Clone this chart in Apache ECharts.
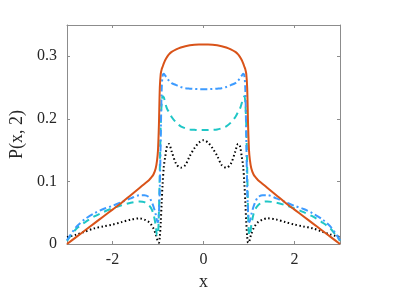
<!DOCTYPE html>
<html>
<head>
<meta charset="utf-8">
<script src="https://cdn.jsdelivr.net/npm/echarts@6/dist/echarts.min.js"></script>
<style>
  html, body { margin: 0; padding: 0; background: #fff; }
  #chart { width: 407px; height: 296px; }
</style>
</head>
<body>
<div id="chart"></div>
<script>
// x grid (shared by all curves)
const xs = [-3, -2.8, -2.6, -2.4, -2.2, -2, -1.8, -1.6, -1.4, -1.3, -1.2, -1.15, -1.1, -1.05, -1.02, -1, -0.98, -0.96, -0.94, -0.92, -0.9, -0.87, -0.84, -0.8, -0.76, -0.7, -0.6, -0.5, -0.4, -0.3, -0.2, -0.1,
  0,
  0.1, 0.2, 0.3, 0.4, 0.5, 0.6, 0.7, 0.76, 0.8, 0.84, 0.87, 0.9, 0.92, 0.94, 0.96, 0.98, 1, 1.02, 1.05, 1.1, 1.15, 1.2, 1.3, 1.4, 1.6, 1.8, 2, 2.2, 2.4, 2.6, 2.8, 3];

const solidP = [0, 0.011, 0.022, 0.033, 0.044, 0.055, 0.066, 0.078, 0.090, 0.096, 0.102, 0.106, 0.111, 0.121, 0.134, 0.150, 0.190, 0.250, 0.272, 0.279, 0.283, 0.289, 0.294, 0.299, 0.303, 0.307, 0.311, 0.314, 0.316, 0.3175, 0.3185, 0.319,
  0.319,
  0.319, 0.3185, 0.3175, 0.316, 0.314, 0.311, 0.307, 0.303, 0.299, 0.294, 0.289, 0.283, 0.279, 0.272, 0.250, 0.190, 0.150, 0.134, 0.121, 0.111, 0.106, 0.102, 0.096, 0.090, 0.078, 0.066, 0.055, 0.044, 0.033, 0.022, 0.011, 0];

const dashDotP = [0.006, 0.027, 0.040, 0.049, 0.056, 0.061, 0.067, 0.073, 0.078, 0.078, 0.075, 0.069, 0.060, 0.047, 0.037, 0.035, 0.050, 0.090, 0.170, 0.245, 0.268, 0.272, 0.269, 0.265, 0.261, 0.257, 0.254, 0.251, 0.249, 0.2483, 0.2478, 0.2475,
  0.2475,
  0.2475, 0.2478, 0.2483, 0.249, 0.251, 0.254, 0.257, 0.261, 0.265, 0.269, 0.272, 0.268, 0.245, 0.170, 0.090, 0.050, 0.035, 0.037, 0.047, 0.060, 0.069, 0.075, 0.078, 0.078, 0.073, 0.067, 0.061, 0.056, 0.049, 0.040, 0.027, 0.006];

const dashedP = [0.005, 0.024, 0.035, 0.044, 0.051, 0.057, 0.062, 0.066, 0.068, 0.067, 0.062, 0.057, 0.048, 0.030, 0.014, 0.015, 0.050, 0.120, 0.190, 0.225, 0.236, 0.234, 0.225, 0.216, 0.211, 0.203, 0.194, 0.188, 0.185, 0.183, 0.1825, 0.182,
  0.182,
  0.182, 0.1825, 0.183, 0.185, 0.188, 0.194, 0.203, 0.211, 0.216, 0.225, 0.234, 0.236, 0.225, 0.190, 0.120, 0.050, 0.015, 0.014, 0.030, 0.048, 0.057, 0.062, 0.067, 0.068, 0.066, 0.062, 0.057, 0.051, 0.044, 0.035, 0.024, 0.005];

const dottedP = [0.011, 0.015, 0.020, 0.025, 0.028, 0.031, 0.035, 0.039, 0.041, 0.039, 0.035, 0.031, 0.025, 0.016, 0.008, 0.003, 0.002, 0.012, 0.035, 0.065, 0.095, 0.125, 0.140, 0.157, 0.160, 0.148, 0.128, 0.122, 0.126, 0.141, 0.153, 0.162,
  0.166,
  0.162, 0.153, 0.141, 0.126, 0.122, 0.128, 0.148, 0.160, 0.157, 0.140, 0.125, 0.095, 0.065, 0.035, 0.012, 0.002, 0.003, 0.008, 0.016, 0.025, 0.031, 0.035, 0.039, 0.041, 0.039, 0.035, 0.031, 0.028, 0.025, 0.020, 0.015, 0.011];

const xTicks = [-2, 0, 2];
const yTicks = [0, 0.1, 0.2, 0.3];

const font = 'Liberation Serif';
const axisCol = '#8c8c8c';

function pairs(ys) {
  return xs.map((x, i) => [x, ys[i]]);
}

const chart = echarts.init(document.getElementById('chart'), null, { renderer: 'canvas' });

const baseX = {
  type: 'value', min: -3, max: 3,
  axisLine: { show: true, onZero: false, lineStyle: { color: axisCol, width: 1 } },
  axisTick: { show: true, inside: true, length: 3, customValues: xTicks, lineStyle: { color: axisCol } },
  splitLine: { show: false }
};
const baseY = {
  type: 'value', min: 0, max: 0.35,
  axisLine: { show: true, onZero: false, lineStyle: { color: axisCol, width: 1 } },
  axisTick: { show: true, inside: true, length: 3, customValues: yTicks, lineStyle: { color: axisCol } },
  splitLine: { show: false }
};

chart.setOption({
  animation: false,
  backgroundColor: '#fff',
  grid: { left: 67, right: 67, top: 25, bottom: 48, containLabel: false },
  xAxis: [
    Object.assign({}, baseX, {
      position: 'bottom',
      name: 'x', nameLocation: 'middle', nameGap: 29,
      nameTextStyle: { fontFamily: font, fontSize: 18, color: '#262626' },
      axisLabel: { customValues: xTicks, margin: 8, fontFamily: font, fontSize: 16, color: '#262626' }
    }),
    Object.assign({}, baseX, { position: 'top', axisLabel: { show: false } })
  ],
  yAxis: [
    Object.assign({}, baseY, {
      position: 'left',
      name: 'P(x, 2)', nameLocation: 'middle', nameGap: 27, nameRotate: 90,
      nameTextStyle: { fontFamily: font, fontSize: 18, color: '#262626' },
      axisLabel: { customValues: yTicks, margin: 10, fontFamily: font, fontSize: 16, color: '#262626' }
    }),
    Object.assign({}, baseY, { position: 'right', axisLabel: { show: false } })
  ],
  series: [
    { name: 'dotted', type: 'line', data: pairs(dottedP), showSymbol: false, smooth: 0.3,
      lineStyle: { color: '#000', width: 2, type: [1.5, 2.5] } },
    { name: 'dashed', type: 'line', data: pairs(dashedP), showSymbol: false, smooth: 0.3,
      lineStyle: { color: '#1fc6c6', width: 2, type: [7, 5] } },
    { name: 'dashdot', type: 'line', data: pairs(dashDotP), showSymbol: false, smooth: 0.3,
      lineStyle: { color: '#3d9bff', width: 2, type: [7, 3, 2, 3] } },
    { name: 'solid', type: 'line', data: pairs(solidP), showSymbol: false, smooth: 0.3,
      lineStyle: { color: '#d95319', width: 2 } }
  ]
});
</script>
</body>
</html>
